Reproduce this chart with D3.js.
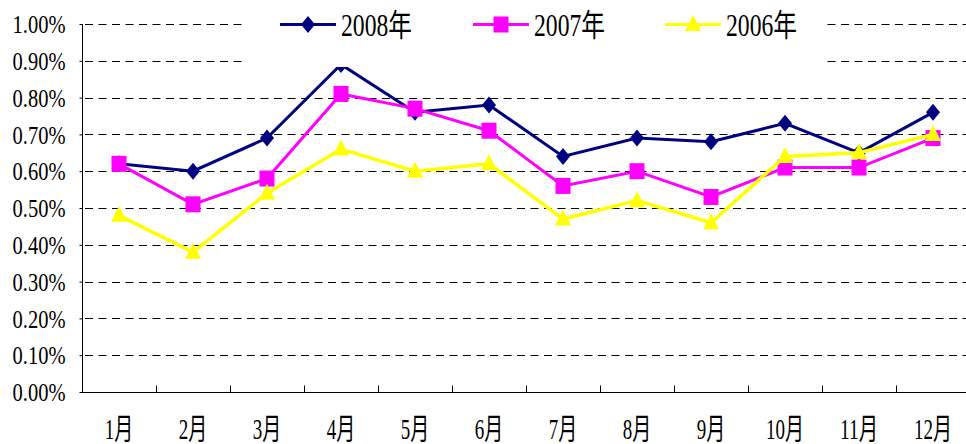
<!DOCTYPE html>
<html>
<head>
<meta charset="utf-8">
<script src="https://cdn.jsdelivr.net/npm/d3@7/dist/d3.min.js"></script>
<style>
  html, body { margin: 0; padding: 0; background: #fff; }
  svg { display: block; }
  text { font-family: "Liberation Serif", "Times New Roman", "Noto Sans CJK SC", serif; fill: #000; }
</style>
</head>
<body>
<div id="chart"></div>
<script>
// data (values in percent)
const months = ["1月", "2月", "3月", "4月", "5月", "6月", "7月", "8月", "9月", "10月", "11月", "12月"];
const yearLabels = ["2008年", "2007年", "2006年"];
const values2008 = [0.62, 0.60, 0.69, 0.89, 0.76, 0.78, 0.64, 0.69, 0.68, 0.73, 0.65, 0.76];
const values2007 = [0.62, 0.51, 0.58, 0.81, 0.77, 0.71, 0.56, 0.60, 0.53, 0.61, 0.61, 0.69];
const values2006 = [0.48, 0.38, 0.54, 0.66, 0.60, 0.62, 0.47, 0.52, 0.46, 0.64, 0.65, 0.70];
const yTicks = [0, 0.1, 0.2, 0.3, 0.4, 0.5, 0.6, 0.7, 0.8, 0.9, 1.0];

const series = [
    { name: yearLabels[0], values: values2008, color: "#000080", marker: "diamond" },
    { name: yearLabels[1], values: values2007, color: "#FF00FF", marker: "square" },
    { name: yearLabels[2], values: values2006, color: "#FFFF00", marker: "triangle" }
];

const W = 966, H = 444;
const svg = d3.select("#chart").append("svg")
    .attr("width", W)
    .attr("height", H);

// the plot area runs a little past the right edge of the window
const x = d3.scaleBand().domain(months).range([82, 970]).padding(0);
const y = d3.scaleLinear().domain([0, 1.0]).range([392, 24]);

// target width of a label, the original font is tall and narrow
function targetWidth(t, asciiW, cjkW) {
    let len = 0;
    for (const ch of t) len += ch.charCodeAt(0) > 255 ? cjkW : asciiW;
    return len;
}

// place a text at (px, py) and squeeze it horizontally with a transform
function placeText(sel, px, py, asciiW, cjkW) {
    sel.each(function (d, i) {
        const el = d3.select(this);
        const natural = this.getComputedTextLength();
        const sx = targetWidth(el.text(), asciiW, cjkW) / natural;
        el.attr("x", 0).attr("y", 0)
            .attr("transform", `translate(${px(d, i)},${py(d, i)}) scale(${sx},1)`);
    });
}

// gridlines
svg.append("g")
    .selectAll("line")
    .data(yTicks.filter(d => d > 0))
    .join("line")
    .attr("x1", 82)
    .attr("x2", W)
    .attr("y1", d => Math.round(y(d)) + 0.5)
    .attr("y2", d => Math.round(y(d)) + 0.5)
    .attr("stroke", "#000")
    .attr("stroke-width", 1)
    .attr("stroke-dasharray", "8,5.5")
    .attr("stroke-dashoffset", -3);

// y axis
const yAxis = svg.append("g")
    .attr("transform", "translate(82.5,0)")
    .call(d3.axisLeft(y).tickValues(yTicks).tickSize(3).tickFormat(d => d.toFixed(2) + "%"));
yAxis.select(".domain").attr("stroke", "#000").attr("d", `M0,${y(1)}V${y(0)}`);
yAxis.selectAll(".tick line").attr("stroke", "#000");
yAxis.selectAll(".tick text")
    .attr("dy", "0.35em")
    .attr("text-anchor", "end")
    .style("font-size", "25px")
    .style("font-family", "'Liberation Serif', 'Times New Roman', serif")
    .call(placeText, () => -17, () => 0, 10.6, 20);

// x axis
const xAxis = svg.append("g")
    .attr("transform", "translate(0,392.5)");
xAxis.append("line")
    .attr("x1", 82).attr("x2", W)
    .attr("stroke", "#000");
xAxis.selectAll(".xtick")
    .data(months.slice(1))
    .join("line")
    .attr("class", "xtick")
    .attr("x1", d => Math.round(x(d)) + 0.5)
    .attr("x2", d => Math.round(x(d)) + 0.5)
    .attr("y1", 0).attr("y2", -7)
    .attr("stroke", "#000");
xAxis.selectAll(".xlabel")
    .data(months)
    .join("text")
    .attr("class", "xlabel")
    .attr("text-anchor", "middle")
    .style("font-size", "30px")
    .text(d => d)
    .call(placeText, d => x(d) + x.bandwidth() / 2, () => 46, 9.5, 19);

// markers
function drawMarker(g, type, color) {
    if (type === "diamond") {
        g.append("path").attr("d", "M0,-8.5L7,0L0,8.5L-7,0Z").attr("fill", color);
    } else if (type === "square") {
        g.append("rect").attr("x", -7.5).attr("y", -8).attr("width", 15).attr("height", 16).attr("fill", color);
    } else {
        g.append("path").attr("d", "M0,-9.5L8,6.5L-8,6.5Z").attr("fill", color);
    }
}

const line = d3.line()
    .x((d, i) => x(months[i]) + x.bandwidth() / 2)
    .y(d => y(d));

series.forEach(s => {
    const g = svg.append("g");
    g.append("path")
        .datum(s.values)
        .attr("fill", "none")
        .attr("stroke", s.color)
        .attr("stroke-width", s.marker === "triangle" ? 3.5 : 3)
        .attr("stroke-linejoin", "miter")
        .attr("d", line);
    s.values.forEach((v, i) => {
        const m = g.append("g")
            .attr("transform", `translate(${x(months[i]) + x.bandwidth() / 2},${y(v)})`);
        drawMarker(m, s.marker, s.color);
    });
});

// legend sits on a white box that covers the top of the plot
const legend = svg.append("g");
legend.append("rect")
    .attr("x", 244).attr("y", 0)
    .attr("width", 582).attr("height", 67)
    .attr("fill", "#fff");

const legendX = [280, 473, 665];
series.forEach((s, i) => {
    const g = legend.append("g").attr("transform", `translate(${legendX[i]},24.5)`);
    g.append("line")
        .attr("x1", 0).attr("x2", 56)
        .attr("stroke", s.color)
        .attr("stroke-width", 3);
    const m = g.append("g").attr("transform", "translate(28,0)");
    drawMarker(m, s.marker, s.color);
    g.append("text")
        .style("font-size", "31px")
        .text(s.name)
        .call(placeText, () => 61, () => 11, 11.5, 25);
});
</script>
</body>
</html>
